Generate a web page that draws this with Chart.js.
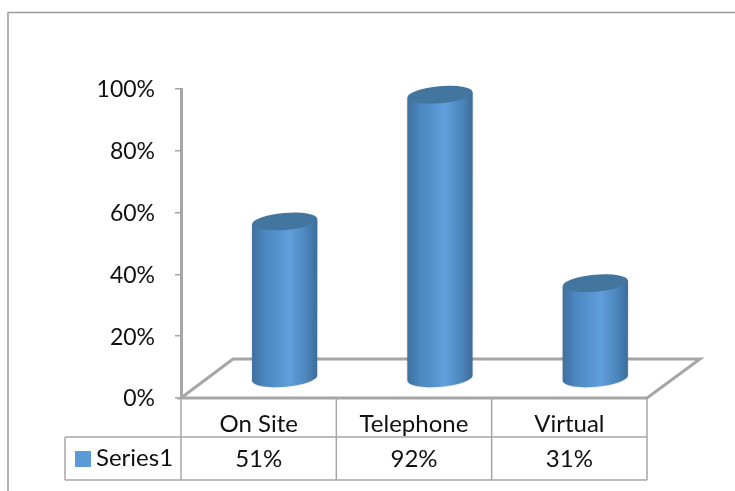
<!DOCTYPE html>
<html><head><meta charset="utf-8">
<style>html,body{margin:0;padding:0;background:#fff}#w{width:735px;height:491px;position:relative}</style>
<script src="https://cdn.jsdelivr.net/npm/chart.js@4"></script>
</head><body><div id="w"><canvas id="c" width="735" height="491"></canvas></div>
<script>
const categories = ['On Site', 'Telephone', 'Virtual'];
const seriesName = 'Series1';
const series1 = [51, 92, 31];
const yTicks = [0, 20, 40, 60, 80, 100];

const FONT = 'Lato, "Open Sans", sans-serif';
const GRAY = '#a6a6a6';
const BLUE = '#5b9bd5';
const DX = 26, DY = -19, TILT = -5 * Math.PI / 180, RY = 8.5;

const scene = {
  id: 'scene',
  beforeDraw(chart) {
    const c = chart.ctx, a = chart.chartArea;
    c.save();
    c.strokeStyle = '#9a9a9a'; c.lineWidth = 1.5;
    c.beginPath(); c.moveTo(8, 491); c.lineTo(8, 12.5); c.lineTo(735, 12.5); c.stroke();
    c.strokeStyle = GRAY; c.lineWidth = 3; c.lineJoin = 'miter';
    c.beginPath();
    c.moveTo(a.left, a.bottom);
    c.lineTo(a.left + 52, a.bottom - 39);
    c.lineTo(a.right + 53, a.bottom - 39);
    c.lineTo(a.right, a.bottom);
    c.closePath(); c.stroke();
    c.restore();
  },
  afterDatasetsDraw(chart) {
    const c = chart.ctx;
    chart.getDatasetMeta(0).data.forEach(el => {
      const x = el.x + DX, top = el.y + DY, base = el.base + DY, r = el.width / 2;
      const g = c.createLinearGradient(x - r, 0, x + r, 0);
      g.addColorStop(0, '#3f6f9f'); g.addColorStop(0.18, '#4a86bf');
      g.addColorStop(0.58, '#5f9fdc'); g.addColorStop(0.85, '#4a83b9'); g.addColorStop(1, '#3d6c99');
      const dy = Math.sin(TILT) * r;
      c.save();
      c.fillStyle = g;
      c.shadowColor = 'rgba(0,0,0,.25)'; c.shadowBlur = 2;
      c.beginPath();
      c.moveTo(x - r, top - dy);
      c.lineTo(x - r, base - dy);
      c.ellipse(x, base, r, RY, TILT, Math.PI, 0, true);
      c.lineTo(x + r, top + dy);
      c.closePath(); c.fill();
      c.shadowBlur = 0;
      c.fillStyle = '#42769f';
      c.beginPath(); c.ellipse(x, top, r, RY, TILT, 0, Math.PI * 2); c.fill();
      c.restore();
    });
  },
  afterDraw(chart) {
    const c = chart.ctx, a = chart.chartArea, xs = chart.scales.x;
    const y1 = a.bottom, y2 = 437, y3 = 480, lx = 65;
    const step = (a.right - a.left) / categories.length;
    c.save();
    c.strokeStyle = GRAY; c.lineWidth = 1.5;
    c.beginPath();
    for (let i = 0; i <= categories.length; i++) {
      const x = a.left + i * step;
      c.moveTo(x, y1); c.lineTo(x, y3);
    }
    c.moveTo(lx, y2); c.lineTo(a.right, y2);
    c.moveTo(lx, y3); c.lineTo(a.right, y3);
    c.moveTo(lx, y2); c.lineTo(lx, y3);
    c.stroke();
    c.fillStyle = BLUE; c.fillRect(75, 451, 16, 16);
    c.fillStyle = '#111'; c.font = '24px ' + FONT; c.textBaseline = 'middle';
    c.textAlign = 'left'; c.fillText(seriesName, 96, 458);
    c.textAlign = 'center';
    series1.forEach((v, i) => c.fillText(v + '%', xs.getPixelForTick(i), 459));
    c.restore();
  }
};

new Chart(document.getElementById('c'), {
  type: 'bar',
  data: { labels: categories, datasets: [{ label: seriesName, data: series1, backgroundColor: 'transparent', barPercentage: 0.42, categoryPercentage: 1 }] },
  options: {
    responsive: false, animation: false,
    layout: { padding: { top: 89, right: 88, left: 0, bottom: 0 } },
    plugins: { legend: { display: false }, tooltip: { enabled: false } },
    scales: {
      x: {
        afterFit(s) { s.height = 93; },
        grid: { display: false },
        border: { display: false },
        ticks: { color: '#111', font: { family: FONT, size: 24 }, padding: 4, maxRotation: 0 }
      },
      y: {
        min: 0, max: 100,
        afterFit(s) { s.width = 181; },
        afterBuildTicks(s) { s.ticks = yTicks.map(v => ({ value: v })); },
        grid: { drawOnChartArea: false, color: GRAY, tickLength: 6, lineWidth: 1.5 },
        border: { color: GRAY, width: 3 },
        ticks: { color: '#111', font: { family: FONT, size: 23 }, padding: 20, labelOffset: 1, callback: v => v + '%' }
      }
    }
  },
  plugins: [scene]
});
</script></body></html>
